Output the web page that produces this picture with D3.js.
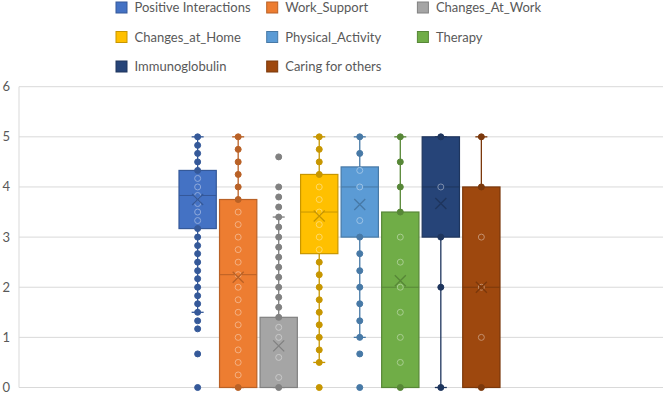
<!DOCTYPE html>
<html>
<head>
<meta charset="UTF-8">
<title></title>
<style>
  body { margin: 0; background: #fff; }
  svg text { font-family: Lato, "Open Sans", sans-serif; fill: #595959; }
</style>
</head>
<body>
<script src="https://cdn.jsdelivr.net/npm/d3@7"></script>
<script>
var series = ["Positive Interactions", "Work_Support", "Changes_At_Work", "Changes_at_Home",
  "Physical_Activity", "Therapy", "Immunoglobulin", "Caring for others"];
var colors = ["#4472C4", "#ED7D31", "#A5A5A5", "#FFC000", "#5B9BD5", "#70AD47", "#264478", "#9E480E"];

// distinct data points shown per series
var points = [
  [0, 0.67, 1.17, 1.33, 1.5, 1.67, 1.83, 2, 2.17, 2.33, 2.5, 2.67, 2.83, 3, 3.17, 3.33, 3.5, 3.67, 3.83, 4, 4.17, 4.33, 4.5, 4.67, 4.83, 5],
  [0, 0.25, 0.5, 0.75, 1, 1.25, 1.5, 1.75, 2, 2.25, 2.5, 2.75, 3, 3.25, 3.5, 3.75, 4, 4.25, 4.5, 4.75, 5],
  [0, 0.2, 0.6, 1, 1.2, 1.4, 1.6, 1.8, 2, 2.2, 2.4, 2.6, 2.8, 3, 3.2, 3.4, 3.6, 3.8, 4, 4.6],
  [0, 0.5, 0.75, 1, 1.25, 1.5, 1.75, 2, 2.25, 2.5, 2.75, 3, 3.25, 3.5, 3.75, 4, 4.25, 4.5, 4.75, 5],
  [0, 0.67, 1, 1.33, 1.67, 2, 2.33, 2.67, 3, 3.33, 4, 4.33, 4.67, 5],
  [0, 0.5, 1, 1.5, 2, 2.5, 3, 3.5, 4, 4.5, 5],
  [0, 2, 3, 4, 5],
  [0, 1, 2, 3, 4, 5]
];
var q1 =      [3.17, 0,    0,    2.67, 3,    0,    3,    0];
var median =  [3.83, 2.25, 0,    3.5,  4,    2,    4,    2];
var q3 =      [4.33, 3.75, 1.4,  4.25, 4.4,  3.5,  5,    4];
var mean =    [3.75, 2.2,  0.83, 3.42, 3.65, 2.13, 3.67, 2.0];
var whiskLo = [1.5,  0,    0,    0.5,  1,    0,    0,    0];
var whiskHi = [5,    5,    3.4,  5,    5,    5,    5,    5];
var yTicks = [0, 1, 2, 3, 4, 5, 6];

var width = 667, height = 395;
var svg = d3.select("body").append("svg")
  .attr("width", width)
  .attr("height", height);

var y = d3.scaleLinear().domain([0, 6]).range([387.5, 86.7]);
var x = d3.scaleBand().domain(series).range([179, 500]).paddingInner(0.08).paddingOuter(0);

// gridlines
svg.append("g").selectAll("line")
  .data(yTicks)
  .enter().append("line")
  .attr("x1", 19).attr("x2", 663)
  .attr("y1", function(d) { return y(d); })
  .attr("y2", function(d) { return y(d); })
  .attr("stroke", "#d9d9d9")
  .attr("stroke-width", 1);

svg.append("line")
  .attr("x1", 19).attr("x2", 19)
  .attr("y1", y(6)).attr("y2", y(0))
  .attr("stroke", "#d9d9d9");

svg.append("g").selectAll("text")
  .data(yTicks)
  .enter().append("text")
  .attr("x", 10)
  .attr("y", function(d) { return y(d) + 4.5; })
  .attr("text-anchor", "end")
  .style("font-size", "13px")
  .text(function(d) { return d; });

// boxes
var groups = svg.append("g").selectAll("g")
  .data(series)
  .enter().append("g");

groups.each(function(name, i) {
  var g = d3.select(this);
  var c = colors[i];
  var dark = d3.color(c).darker(0.7).toString();
  var light = d3.interpolateRgb(c, "#ffffff")(0.4);
  var cx = x(name) + x.bandwidth() / 2;
  var bw = x.bandwidth();

  // whiskers
  g.append("line")
    .attr("x1", cx).attr("x2", cx)
    .attr("y1", y(whiskHi[i])).attr("y2", y(q3[i]))
    .attr("stroke", dark).attr("stroke-width", 1.3);
  g.append("line")
    .attr("x1", cx).attr("x2", cx)
    .attr("y1", y(q1[i])).attr("y2", y(whiskLo[i]))
    .attr("stroke", dark).attr("stroke-width", 1.3);
  [whiskHi[i], whiskLo[i]].forEach(function(v) {
    g.append("line")
      .attr("x1", cx - 6).attr("x2", cx + 6)
      .attr("y1", y(v)).attr("y2", y(v))
      .attr("stroke", dark).attr("stroke-width", 1.3);
  });

  // box
  g.append("rect")
    .attr("x", x(name))
    .attr("y", y(q3[i]))
    .attr("width", bw)
    .attr("height", Math.max(0, y(q1[i]) - y(q3[i])))
    .attr("fill", c)
    .attr("stroke", dark)
    .attr("stroke-width", 1.2);

  g.append("line")
    .attr("x1", x(name)).attr("x2", x(name) + bw)
    .attr("y1", y(median[i])).attr("y2", y(median[i]))
    .attr("stroke", dark).attr("stroke-width", 1);

  // points
  g.selectAll("circle")
    .data(points[i])
    .enter().append("circle")
    .attr("cx", cx)
    .attr("cy", function(d) { return y(d); })
    .attr("r", 3)
    .attr("fill", function(d) { return (d > q1[i] && d < q3[i]) ? c : dark; })
    .attr("stroke", function(d) { return (d > q1[i] && d < q3[i]) ? light : dark; })
    .attr("stroke-width", 1);

  // mean marker
  var my = y(mean[i]), s = 5.5;
  g.append("path")
    .attr("d", "M" + (cx - s) + "," + (my - s) + "L" + (cx + s) + "," + (my + s) +
      "M" + (cx - s) + "," + (my + s) + "L" + (cx + s) + "," + (my - s))
    .attr("stroke", dark).attr("stroke-width", 1.3).attr("fill", "none");
});

// legend
var legend = svg.append("g").selectAll("g")
  .data(series)
  .enter().append("g")
  .attr("transform", function(d, i) {
    return "translate(" + (116 + (i % 3) * 150.7) + "," + (7.5 + Math.floor(i / 3) * 29.5) + ")";
  });

legend.append("rect")
  .attr("x", 0).attr("y", -5.5)
  .attr("width", 11).attr("height", 11)
  .attr("fill", function(d, i) { return colors[i]; })
  .attr("stroke", function(d, i) { return d3.color(colors[i]).darker(0.7); })
  .attr("stroke-width", 1);

legend.append("text")
  .attr("x", 18.5)
  .attr("y", 4.5)
  .style("font-size", "13px")
  .text(function(d) { return d; });
</script>
</body>
</html>
